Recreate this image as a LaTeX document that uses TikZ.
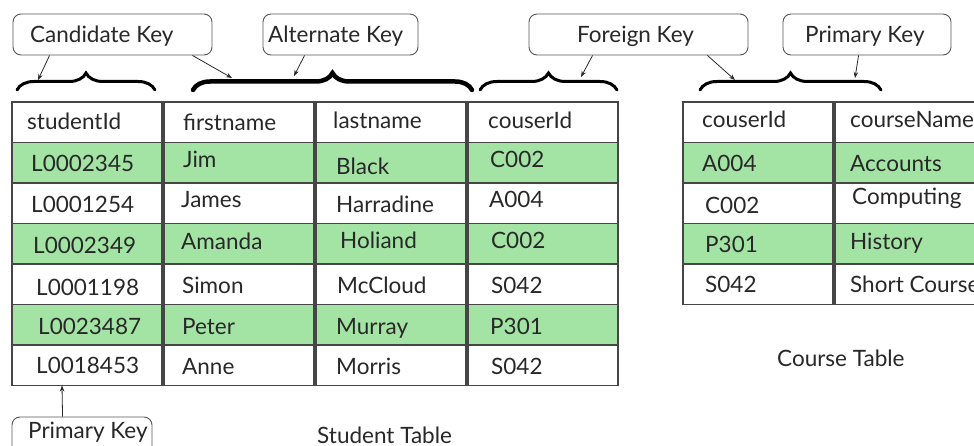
\documentclass[tikz,border=0pt]{standalone}
\usepackage{fontspec}
\setmainfont{Lato}
\usetikzlibrary{arrows.meta,decorations.pathreplacing,calc}
\definecolor{rowgreen}{RGB}{163,228,165}
\definecolor{ink}{RGB}{40,40,40}
\definecolor{rulec}{RGB}{70,70,70}
\definecolor{boxc}{RGB}{85,85,85}
\tikzset{
  cell/.style={draw=rulec, line width=1.1pt, minimum height=40.5pt, anchor=north west, inner sep=0pt, outer sep=0pt},
  txt/.style={text=ink, inner sep=0pt, anchor=base west, font=\fontsize{22.5}{26}\selectfont},
  callout/.style={draw=boxc, line width=0.9pt, rounded corners=8pt, inner sep=0pt, minimum height=41pt},
  brc/.style={decorate, decoration={brace, amplitude=17pt}, line width=3pt, line cap=round},
  pointer/.style={draw=ink, line width=0.8pt, -{Stealth[length=6pt,width=4.5pt]}}
}
\begin{document}
\begin{tikzpicture}[x=1pt,y=-1pt]
\clip (0,0) rectangle (974,446);
\fill[white] (0,0) rectangle (974,446);

% student table
\foreach \c/\xl in {1/12,2/164,3/316,4/468}{
  \foreach \r/\fc in {0/white,1/rowgreen,2/white,3/rowgreen,4/white,5/rowgreen,6/white}{
    \node[cell, fill=\fc, minimum width=150pt] (s\c\r) at (\xl,{102+40.5*\r}) {};
  }
}
% course table
\foreach \c/\xl/\w in {1/683/150,2/835/170}{
  \foreach \r/\fc in {0/white,1/rowgreen,2/white,3/rowgreen,4/white}{
    \node[cell, fill=\fc, minimum width=\w pt] (c\c\r) at (\xl,{102+40.5*\r}) {};
  }
}

% student texts
\node[txt] (ts10) at (27,130) {studentId};
\node[txt] (ts20) at (183,131) {firstname};
\node[txt] (ts30) at (333,129) {lastname};
\node[txt] (ts40) at (488,129) {couserId};
\node[txt] (ts11) at (31,172) {L0002345};
\node[txt] (ts21) at (183,168) {Jim};
\node[txt] (ts31) at (336,175) {Black};
\node[txt] (ts41) at (490,168) {C002};
\node[txt] (ts12) at (31,213) {L0001254};
\node[txt] (ts22) at (181,208) {James};
\node[txt] (ts32) at (336,213) {Harradine};
\node[txt] (ts42) at (489,208) {A004};
\node[txt] (ts13) at (33,254) {L0002349};
\node[txt] (ts23) at (181,250) {Amanda};
\node[txt] (ts33) at (340,249) {Holiand};
\node[txt] (ts43) at (491,249) {C002};
\node[txt] (ts14) at (36,295) {L0001198};
\node[txt] (ts24) at (182,294) {Simon};
\node[txt] (ts34) at (337,294) {McCloud};
\node[txt] (ts44) at (491,294) {S042};
\node[txt] (ts15) at (38,334) {L0023487};
\node[txt] (ts25) at (182,334) {Peter};
\node[txt] (ts35) at (336,334) {Murray};
\node[txt] (ts45) at (490,334) {P301};
\node[txt] (ts16) at (36,373) {L0018453};
\node[txt] (ts26) at (182,374) {Anne};
\node[txt] (ts36) at (336,374) {Morris};
\node[txt] (ts46) at (491,374) {S042};

% course texts
\node[txt] (tc10) at (702,128) {couserId};
\node[txt] (tc20) at (850,128) {courseName};
\node[txt] (tc11) at (702,172) {A004};
\node[txt] (tc21) at (850,172) {Accounts};
\node[txt] (tc12) at (705,214) {C002};
\node[txt] (tc22) at (852,205) {Computing};
\node[txt] (tc13) at (705,253) {P301};
\node[txt] (tc23) at (850,250) {History};
\node[txt] (tc14) at (705,293) {S042};
\node[txt] (tc24) at (850,293) {Short Course};

% table captions
\node[txt] (stab) at (317,443) {Student Table};
\node[txt] (ctab) at (777,366) {Course Table};

% callouts
\node[callout, minimum width=199pt] (cand) at (112.5,34.5) {};
\node[callout, minimum width=155pt] (alt) at (340.5,34.5) {};
\node[callout, minimum width=219pt] (forg) at (638.5,34.5) {};
\node[callout, minimum width=168pt] (pk1) at (867,34.5) {};
\node[callout, minimum width=140pt, minimum height=44pt] (pk2) at (82,439) {};
\node[txt] (candt) at (30,43) {Candidate Key};
\node[txt] (altt) at (268,43) {Alternate Key};
\node[txt] (forgt) at (577,43) {Foreign Key};
\node[txt] (pk1t) at (805,43) {Primary Key};
\node[txt] (pk2t) at (28,438) {Primary Key};

% braces
\coordinate (b1l) at (17,90);  \coordinate (b1r) at (155,90);
\coordinate (b2l) at (193,90); \coordinate (b2r) at (472,90);
\coordinate (b3l) at (480,90); \coordinate (b3r) at (617,90);
\coordinate (b4l) at (700,90); \coordinate (b4r) at (881,90);
\draw[brc] (b1l) -- (b1r);
\draw[brc, line width=4.5pt] (b2l) -- (b2r);
\draw[brc] (b3l) -- (b3r);
\draw[brc] (b4l) -- (b4r);

% pointer ends on braces
\coordinate (e1) at (38,80);
\coordinate (e2) at (232,78);
\coordinate (e3) at (294,76);
\coordinate (e4) at (581,77);
\coordinate (e5) at (735,80);
\coordinate (e6) at (855,78);

\draw[pointer] ($(cand.south west)+(37,0)$) -- (e1);
\draw[pointer] ($(cand.south east)+(-20,0)$) -- (e2);
\draw[pointer] ($(alt.south west)+(42,0)$) -- (e3);
\draw[pointer] ($(forg.south west)+(64,0)$) -- (e4);
\draw[pointer] ($(forg.south east)+(-41,0)$) -- (e5);
\draw[pointer] ($(pk1.south west)+(76,0)$) -- (e6);
\draw[pointer] ($(pk2.north west)+(51,0)$) -- ($(s16.south west)+(50,0)$);
\end{tikzpicture}
\end{document}
